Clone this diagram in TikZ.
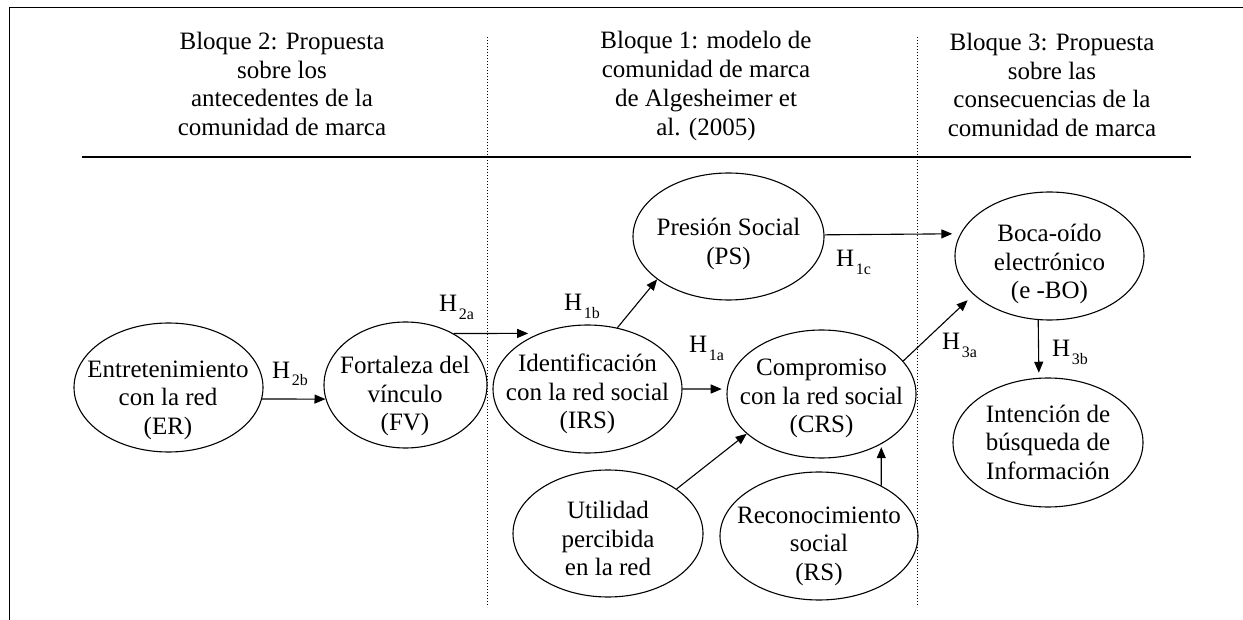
\documentclass[tikz,border=0pt]{standalone}
\usepackage{fontspec}
\setmainfont{Liberation Serif}
\usetikzlibrary{arrows.meta,shapes.geometric}
\newcommand\hsubl[1]{H\hspace{1.5pt}\raisebox{-8pt}{\fontsize{16}{16}\selectfont #1}}
\tikzset{
  ell/.style={draw, ellipse, line width=1.1pt, inner sep=0pt},
  txt/.style={align=center, font=\fontsize{25}{28.5}\selectfont, inner sep=0pt},
  hdr/.style={align=center, font=\fontsize{25}{28.7}\selectfont, inner sep=0pt},
  arr/.style={line width=1.1pt, -{Triangle[length=11pt,width=9pt]}},
  hyp/.style={anchor=base west, inner sep=0pt, font=\fontsize{25}{25}\selectfont},
  dots/.style={line width=1pt, dash pattern=on 1pt off 2pt},
}
\begin{document}
\begin{tikzpicture}[x=1pt,y=-1pt]
\useasboundingbox (0,0) rectangle (1243,620);
% frame
\coordinate (fTL) at (9,7);
\coordinate (fTR) at (1243,7);
\coordinate (fBL) at (9,620);
\draw[line width=0.9pt] (fTR) -- (fTL) -- (fBL);
% header separator
\coordinate (sL) at (82,157);
\coordinate (sR) at (1191,157);
\draw[line width=1.6pt] (sL) -- (sR);
% dotted dividers
\coordinate (d1t) at (487.5,37);
\coordinate (d1b) at (487.5,607);
\coordinate (d2t) at (917,37);
\coordinate (d2b) at (917,607);
\draw[dots] (d1t) -- (d1b);
\draw[dots] (d2t) -- (d2b);
% headers
\node[hdr] (h2) at (282,84) {Bloque 2: Propuesta\\sobre los\\antecedentes de la\\comunidad de marca};
\node[hdr] (h1) at (706,86) {Bloque 1: modelo de\\comunidad de marca\\de Algesheimer et\\al. (2005)};
\node[hdr] (h3) at (1052,85) {Bloque 3: Propuesta\\sobre las\\consecuencias de la\\comunidad de marca};
% ellipses
\node[ell, minimum width=189pt, minimum height=129pt] (ER) at (168.5,387.5) {};
\node[ell, minimum width=163pt, minimum height=126pt] (FV) at (405.5,385) {};
\node[ell, minimum width=189pt, minimum height=128pt] (IRS) at (587.5,389) {};
\node[ell, minimum width=191pt, minimum height=127pt] (PS) at (728.5,236.5) {};
\node[ell, minimum width=189pt, minimum height=128pt] (CRS) at (821.5,394) {};
\node[ell, minimum width=190pt, minimum height=127pt] (UPR) at (608,533.5) {};
\node[ell, minimum width=198pt, minimum height=128pt] (RS) at (819,536) {};
\node[ell, minimum width=189pt, minimum height=128pt] (EBO) at (1049.5,256) {};
\node[ell, minimum width=190pt, minimum height=129pt] (IBI) at (1048,442.5) {};
% ellipse texts
\node[txt] (ERt) at (168,400) {Entretenimiento\\con la red\\(ER)};
\node[txt] (FVt) at (405,396) {Fortaleza del\\vínculo\\(FV)};
\node[txt] (IRSt) at (587.5,394) {Identificación\\con la red social\\(IRS)};
\node[txt] (PSt) at (728.5,244) {Presión Social\\(PS)};
\node[txt] (CRSt) at (821.5,398.5) {Compromiso\\con la red social\\(CRS)};
\node[txt] (UPRt) at (608,538.5) {Utilidad\\percibida\\en la red};
\node[txt] (RSt) at (819,546) {Reconocimiento\\social\\(RS)};
\node[txt] (EBOt) at (1049.5,264) {Boca-oído\\electrónico\\(e -BO)};
\node[txt] (IBIt) at (1048,442) {Intención de\\búsqueda de\\Información};
% connectors
\draw[arr] (ER.-7) -- (FV.190);
\draw[arr, shorten >=11pt] (FV.47.7) -- (IRS.131.3);
\draw[arr] (IRS.64.6) -- (PS.211);
\draw[arr, shorten >=5pt] (IRS.0) -- (CRS.177);
\draw[arr, shorten >=8pt] (PS.1.5) -- (EBO.166.1);
\draw[arr, shorten >=8pt] (CRS.22.9) -- (EBO.207);
\draw[arr, shorten >=5pt] (EBO.260.6) -- (IBI.98);
\draw[arr] (UPR.33.1) -- (CRS.208.8);
\draw[arr, shorten >=3pt] (RS.39.6) -- (CRS.-40.7);
% hypothesis labels
\node[hyp] (H2b) at (272,378) {\hsubl{2b}};
\node[hyp] (H2a) at (439,312) {\hsubl{2a}};
\node[hyp] (H1b) at (564,311) {\hsubl{1b}};
\node[hyp] (H1a) at (689,353) {\hsubl{1a}};
\node[hyp] (H1c) at (836,267) {\hsubl{1c}};
\node[hyp] (H3a) at (942,350) {\hsubl{3a}};
\node[hyp] (H3b) at (1052,357) {\hsubl{3b}};
\end{tikzpicture}
\end{document}
